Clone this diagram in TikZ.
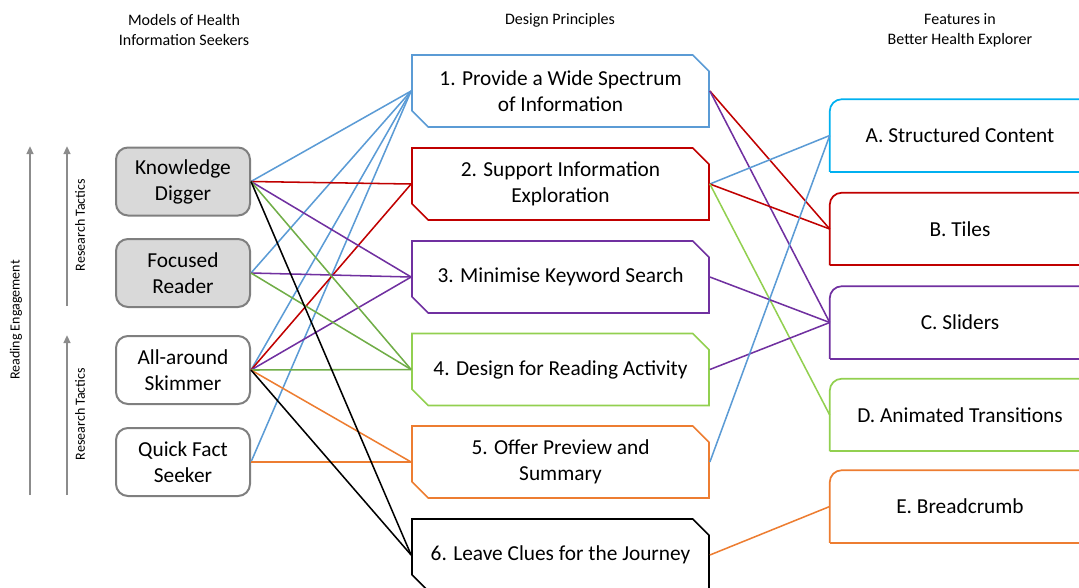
\documentclass[tikz,border=0pt]{standalone}
\usepackage{fontspec}
\setmainfont{Carlito}
\usetikzlibrary{shapes.misc,arrows.meta}

\tikzset{
  seeker/.style={draw=greyHIS, line width=1.5pt, rounded corners=9pt,
    minimum width=100.5pt, minimum height=51pt, align=center,
    font=\fontsize{16}{19.5}\selectfont},
  principle/.style={draw, line width=1.3pt, chamfered rectangle,
    chamfered rectangle corners={north east,south west},
    chamfered rectangle xsep=9pt, minimum width=222.75pt, minimum height=54pt,
    align=center, font=\fontsize{16}{19.5}\selectfont},
  feature/.style={minimum width=195pt, minimum height=54pt,
    font=\fontsize{16}{19.5}\selectfont},
  heading/.style={align=center, font=\fontsize{12}{15}\selectfont},
  side/.style={rotate=90, font=\fontsize{10.5}{12}\selectfont},
  level/.style={draw=arrowHIS, line width=1.5pt, -{Triangle[length=6pt,width=5pt]}},
  link/.style={line width=1.15pt},
}

\begin{document}
\begin{tikzpicture}[x=0.75pt, y=-0.75pt]

\definecolor{greyHIS}{HTML}{7F7F7F}
\definecolor{fillHIS}{HTML}{D9D9D9}
\definecolor{arrowHIS}{HTML}{8C8C8C}
\definecolor{blueHIS}{HTML}{5B9BD5}
\definecolor{cyanHIS}{HTML}{00B0F0}
\definecolor{redHIS}{HTML}{C00000}
\definecolor{purpleHIS}{HTML}{7030A0}
\definecolor{greenHIS}{HTML}{70AD47}
\definecolor{limeHIS}{HTML}{92D050}
\definecolor{orangeHIS}{HTML}{ED7D31}

\useasboundingbox (0,0) rectangle (1079,587);

\node[heading] (hseek) at (184,30) {Models of Health\\Information Seekers};
\node[heading] (hprin) at (560,20) {Design Principles};
\node[heading] (hfeat) at (960,30) {Features in\\Better Health Explorer};

\coordinate (eng0) at (30,495);
\coordinate (eng1) at (30,146);
\coordinate (tac0) at (67,306);
\coordinate (tac1) at (67,146);
\coordinate (tac2) at (67,495);
\coordinate (tac3) at (67,335);
\draw[level] (eng0) -- (eng1);
\draw[level] (tac0) -- (tac1);
\draw[level] (tac2) -- (tac3);
\node[side] (leng) at (16,320) {Reading Engagement};
\node[side] (ltac1) at (80,225) {Research Tactics};
\node[side] (ltac2) at (80,414) {Research Tactics};

\node[seeker, fill=fillHIS] (kd) at (183,181.5) {Knowledge\\Digger};
\node[seeker, fill=fillHIS] (fr) at (183,273) {Focused\\Reader};
\node[seeker] (as) at (183,370) {All-around\\Skimmer};
\node[seeker] (qf) at (183,462) {Quick Fact\\Seeker};

\node[principle, blueHIS, text=black] (p1) at (560.5,91) {1. Provide a Wide Spectrum\\of Information};
\node[principle, redHIS, text=black] (p2) at (560.5,184) {2. Support Information\\Exploration};
\node[principle, purpleHIS, text=black] (p3) at (560.5,277) {3. Minimise Keyword Search};
\node[principle, limeHIS, text=black] (p4) at (560.5,369.5) {4. Design for Reading Activity};
\node[principle, orangeHIS, text=black] (p5) at (560.5,462) {5. Offer Preview and\\Summary};
\node[principle, black] (p6) at (560.5,555) {6. Leave Clues for the Journey};

\node[feature] (fa) at (960,135.5) {A. Structured Content};
\node[feature] (fb) at (960,229) {B. Tiles};
\node[feature] (fc) at (960,322.5) {C. Sliders};
\node[feature] (fd) at (960,415) {D. Animated Transitions};
\node[feature] (fe) at (960,506.5) {E. Breadcrumb};

\foreach \n/\c in {fa/cyanHIS, fb/redHIS, fc/purpleHIS, fd/limeHIS, fe/orangeHIS} {
 \draw[\c, line width=1.3pt] (\n.south west) -- (\n.south east);
 \draw[\c, line width=1.3pt, rounded corners=9pt] (\n.south west) -- (\n.north west) -- (\n.north east);
}

\foreach \a/\b/\c in {kd/p1/blueHIS, fr/p1/blueHIS, as/p1/blueHIS, qf/p1/blueHIS,
  kd/p2/redHIS, as/p2/redHIS, kd/p3/purpleHIS, fr/p3/purpleHIS, as/p3/purpleHIS,
  kd/p4/greenHIS, fr/p4/greenHIS, as/p4/greenHIS, as/p5/orangeHIS, qf/p5/orangeHIS,
  kd/p6/black, as/p6/black} {
 \draw[link, \c] (\a.east) -- (\b.west);
}

\foreach \a/\b/\c in {p1/fb/redHIS, p1/fc/purpleHIS, p2/fa/blueHIS, p2/fb/redHIS,
  p2/fd/limeHIS, p3/fc/purpleHIS, p4/fc/purpleHIS, p5/fa/blueHIS, p6/fe/orangeHIS} {
 \draw[link, \c] (\a.east) -- (\b.west);
}
\end{tikzpicture}
\end{document}
